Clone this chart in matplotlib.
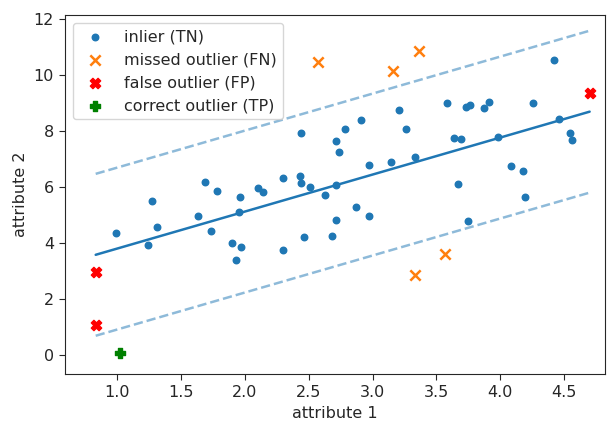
import numpy as np
import matplotlib
matplotlib.use("Agg")
import matplotlib.pyplot as plt
import seaborn as sns

# inliers (true negatives)
inlier_x = [0.99, 1.27, 1.24, 1.31, 1.63, 1.69, 1.73, 1.78, 1.90, 1.93, 1.95, 1.96, 1.97,
            2.10, 2.14, 2.30, 2.30, 2.43, 2.44, 2.44, 2.46, 2.51, 2.63, 2.68, 2.71, 2.71,
            2.71, 2.74, 2.78, 2.87, 2.91, 2.97, 2.97, 3.14, 3.21, 3.26, 3.33, 3.58, 3.64,
            3.67, 3.69, 3.73, 3.75, 3.76, 3.87, 3.91, 3.98, 4.08, 4.18, 4.19, 4.26, 4.42,
            4.46, 4.55, 4.56]
inlier_y = [4.36, 5.50, 3.93, 4.57, 4.96, 6.18, 4.43, 5.86, 4.00, 3.39, 5.11, 5.64, 3.86,
            5.96, 5.82, 3.75, 6.32, 6.39, 7.93, 6.14, 4.21, 6.00, 5.71, 4.25, 6.07, 7.64,
            4.82, 7.25, 8.07, 5.29, 8.39, 6.79, 4.96, 6.89, 8.75, 8.07, 7.07, 9.00, 7.75,
            6.11, 7.71, 8.86, 4.79, 8.93, 8.82, 9.04, 7.79, 6.75, 6.57, 5.64, 9.00, 10.54,
            8.43, 7.93, 7.68]

# missed outliers (false negatives)
fn_x = [2.57, 3.16, 3.36, 3.57, 3.33]
fn_y = [10.46, 10.14, 10.86, 3.61, 2.86]

# false outliers (false positives)
fp_x = [0.83, 0.83, 4.70]
fp_y = [2.96, 1.07, 9.36]

# correct outliers (true positives)
tp_x = [1.02]
tp_y = [0.07]

# fitted line and tolerance band
fit_x = [0.83, 4.70]
fit_y = [3.57, 8.68]
band = 2.89

sns.set_style("ticks")
plt.rcParams["font.size"] = 11.5
plt.rcParams["xtick.major.size"] = 4.5
plt.rcParams["ytick.major.size"] = 4.5

fig, ax = plt.subplots(figsize=(6.08, 4.21), dpi=100)

fx = np.array(fit_x)
fy = np.array(fit_y)
ax.plot(fx, fy, color="C0", lw=1.8)
ax.plot(fx, fy + band, color="C0", lw=1.8, ls="--", alpha=0.5)
ax.plot(fx, fy - band, color="C0", lw=1.8, ls="--", alpha=0.5)

ax.scatter(inlier_x, inlier_y, s=22, color="C0", label="inlier (TN)", zorder=3)
ax.scatter(fn_x, fn_y, s=55, marker="x", color="C1", linewidths=1.8,
           label="missed outlier (FN)", zorder=3)
ax.scatter(fp_x, fp_y, s=55, marker="X", color="red", label="false outlier (FP)", zorder=3)
ax.scatter(tp_x, tp_y, s=55, marker="P", color="green", label="correct outlier (TP)", zorder=3)

ax.set_xlim(0.59, 4.82)
ax.set_ylim(-0.68, 12.14)
ax.set_xticks([1.0, 1.5, 2.0, 2.5, 3.0, 3.5, 4.0, 4.5])
ax.set_yticks([0, 2, 4, 6, 8, 10, 12])
ax.set_xlabel("attribute 1")
ax.set_ylabel("attribute 2")
ax.legend(loc="upper left", fontsize=11.5)

fig.subplots_adjust(left=0.107, right=0.995, top=0.965, bottom=0.112)
fig.savefig("out.png")
